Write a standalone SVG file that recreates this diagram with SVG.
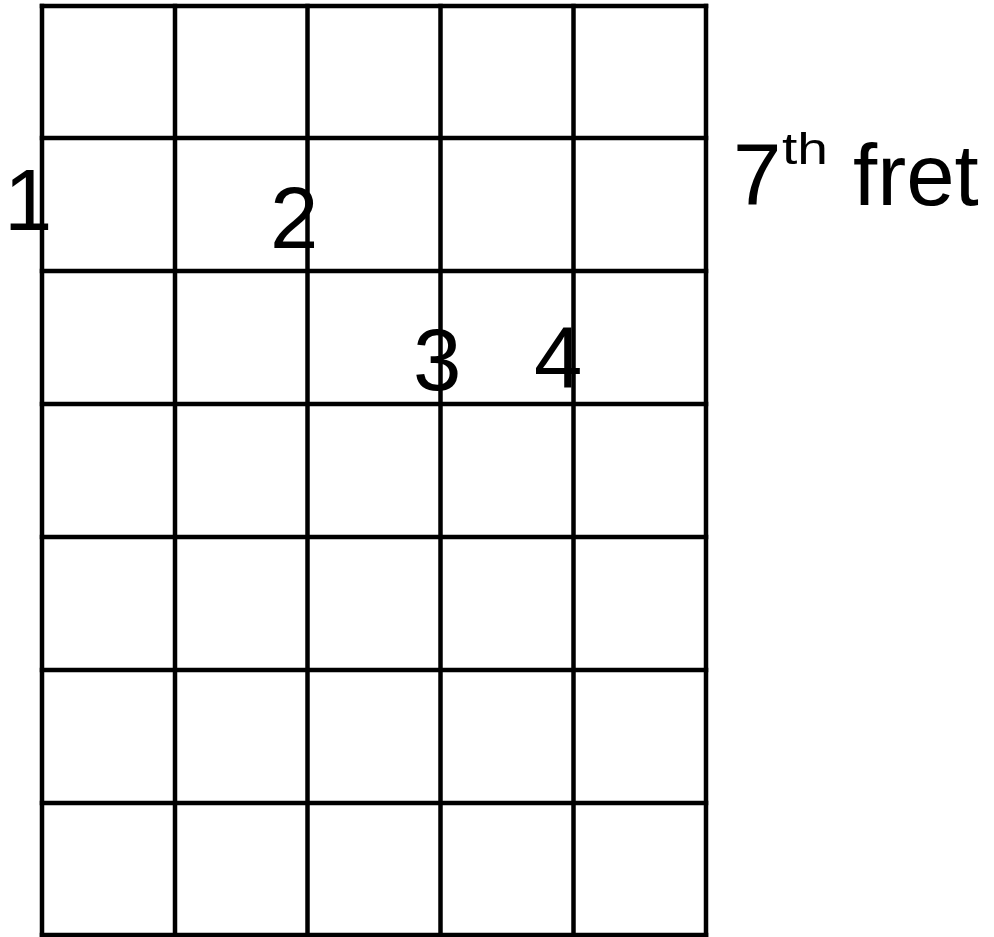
<svg xmlns="http://www.w3.org/2000/svg" width="994" height="937" viewBox="0 0 994 937">
<style>
.g{stroke:#000;stroke-width:4.5;fill:none;stroke-linecap:square}
.t{font-family:"Liberation Sans",Arial,sans-serif;font-size:87px;fill:#000}
.s{font-family:"Liberation Sans",Arial,sans-serif;font-size:45px;fill:#000}
</style>
<rect width="994" height="937" fill="#fff"/>
<g id="grid" class="g">
<line x1="42" y1="6" x2="42" y2="935"/>
<line x1="175" y1="6" x2="175" y2="935"/>
<line x1="307.5" y1="6" x2="307.5" y2="935"/>
<line x1="440.5" y1="6" x2="440.5" y2="935"/>
<line x1="573.5" y1="6" x2="573.5" y2="935"/>
<line x1="706" y1="6" x2="706" y2="935"/>
<line x1="42" y1="6" x2="706" y2="6"/>
<line x1="42" y1="138" x2="706" y2="138"/>
<line x1="42" y1="271" x2="706" y2="271"/>
<line x1="42" y1="404" x2="706" y2="404"/>
<line x1="42" y1="537" x2="706" y2="537"/>
<line x1="42" y1="670" x2="706" y2="670"/>
<line x1="42" y1="803" x2="706" y2="803"/>
<line x1="42" y1="935" x2="706" y2="935"/>
</g>
<g id="finger1"><text class="t" x="4" y="230">1</text></g>
<g id="finger2"><text class="t" x="270" y="248">2</text></g>
<g id="finger3"><text class="t" x="413" y="390">3</text></g>
<g id="finger4"><text class="t" x="534" y="388">4</text></g>
<g id="fretlabel">
<text class="t" x="733" y="205">7</text>
<text class="s" x="782" y="164" textLength="46" lengthAdjust="spacingAndGlyphs">th</text>
<text class="t" x="853" y="205">fret</text>
</g>
</svg>
